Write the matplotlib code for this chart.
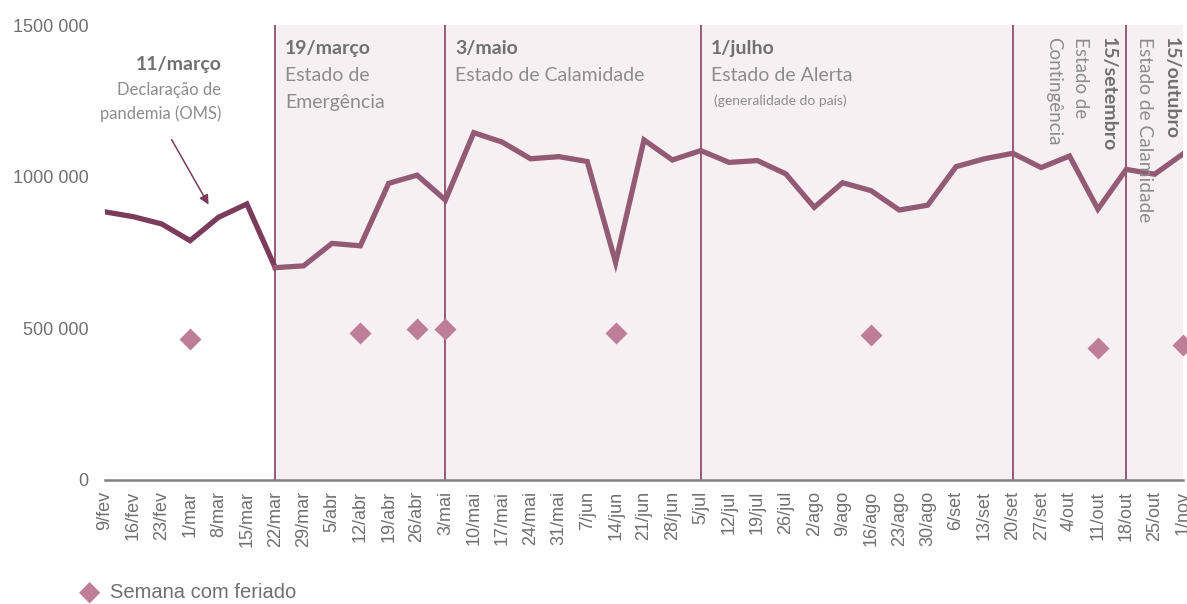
import matplotlib
matplotlib.use('Agg')
import matplotlib.pyplot as plt

# semanas (domingo de cada semana)
weeks = ['9/fev', '16/fev', '23/fev', '1/mar', '8/mar', '15/mar', '22/mar', '29/mar',
         '5/abr', '12/abr', '19/abr', '26/abr', '3/mai', '10/mai', '17/mai', '24/mai',
         '31/mai', '7/jun', '14/jun', '21/jun', '28/jun', '5/jul', '12/jul', '19/jul',
         '26/jul', '2/ago', '9/ago', '16/ago', '23/ago', '30/ago', '6/set', '13/set',
         '20/set', '27/set', '4/out', '11/out', '18/out', '25/out', '1/nov']
values = [884000, 868000, 844000, 789000, 866000, 910000, 700000, 706000,
          780000, 772000, 978000, 1005000, 923000, 1145000, 1114000, 1059000,
          1066000, 1050000, 717000, 1121000, 1055000, 1086000, 1047000, 1053000,
          1009000, 899000, 980000, 954000, 890000, 906000, 1033000, 1059000,
          1077000, 1030000, 1068000, 893000, 1024000, 1008000, 1075000]
# semanas com feriado
holiday_weeks = ['1/mar', '12/abr', '26/abr', '3/mai', '14/jun', '16/ago', '11/out', '1/nov']
holiday_values = [465000, 485000, 498000, 498000, 485000, 478000, 435000, 445000]
# marcos (semana onde comeca cada estado)
event_weeks = ['22/mar', '3/mai', '5/jul', '20/set', '18/out']

dark = '#7b3b5a'
line_c = '#935a74'
diam_c = '#bf7e98'
grey = '#707070'
lgrey = '#8c8c8c'
shade = '#f6f0f3'
ann_font = ['Lato', 'DejaVu Sans']

fig = plt.figure(figsize=(11.87, 6.04), dpi=100)
ax = fig.add_axes([105 / 1187, 1 - 480 / 604, (1183 - 105) / 1187, (480 - 25) / 604])

x = list(range(len(weeks)))
idx = {w: i for i, w in enumerate(weeks)}
start = idx['22/mar']

ax.axvspan(start, len(weeks) + 1, ymin=0, ymax=1.005, color=shade, lw=0, zorder=0)
for w in event_weeks:
    ax.axvline(idx[w], color='#8e4f6b', lw=1.3, zorder=1)

ax.plot(x[:start + 1], values[:start + 1], color=dark, lw=3.8, solid_joinstyle='miter', zorder=3)
ax.plot(x[start:], values[start:], color=line_c, lw=3.8, solid_joinstyle='miter', zorder=3)
ax.plot([idx[w] for w in holiday_weeks], holiday_values, 'D', color=diam_c, ms=11,
        mec='none', zorder=4, clip_on=False)

ax.set_xlim(0, len(weeks) - 1)
ax.set_ylim(0, 1500000)
ax.set_yticks([0, 500000, 1000000, 1500000])
ax.set_yticklabels(['0', '500 000', '1000 000', '1500 000'])
ax.set_xticks(x)
ax.set_xticklabels(weeks, rotation=90)
for lab in ax.get_xticklabels() + ax.get_yticklabels():
    lab.set_family('Liberation Sans')
    lab.set_color(grey)
    lab.set_fontsize(13)
ax.tick_params(length=0, pad=8)
ax.tick_params(axis='y', pad=12)
for s in ['top', 'right', 'left']:
    ax.spines[s].set_visible(False)
ax.spines['bottom'].set_color('#808080')
ax.spines['bottom'].set_linewidth(1.8)
ax.patch.set_alpha(0)

# anotacoes
ax.text(idx['16/fev'] + 3.1, 1370000, '11/março', ha='right', va='center', fontsize=14,
        fontweight='bold', color=grey, family=ann_font)
ax.text(idx['16/fev'] + 3.1, 1313000, 'Declaração de\npandemia (OMS)', ha='right', va='top',
        fontsize=12, color=lgrey, family=ann_font, linespacing=1.55)
ax.annotate('', xy=(3.7, 900000), xytext=(2.3, 1130000),
            arrowprops=dict(arrowstyle='-|>', color=dark, lw=1.1, mutation_scale=14))

tops = [('22/mar', '19/março', 'Estado de\nEmergência'),
        ('3/mai', '3/maio', 'Estado de Calamidade'),
        ('5/jul', '1/julho', 'Estado de Alerta')]
for w, title, sub in tops:
    ax.text(idx[w] + 0.35, 1424000, title, ha='left', va='center', fontsize=14,
            fontweight='bold', color=grey, family=ann_font)
    ax.text(idx[w] + 0.35, 1362000, sub, ha='left', va='top', fontsize=14,
            color=lgrey, family=ann_font, linespacing=1.75)
ax.text(idx['5/jul'] + 0.45, 1250000, '(generalidade do país)', ha='left', va='center',
        fontsize=10, color=lgrey, family=ann_font)

ytop = 1462000
ax.text(idx['20/set'] + 3.35, ytop, '15/setembro', rotation=270, ha='center', va='top',
        fontsize=14, fontweight='bold', color=grey, family=ann_font)
ax.text(idx['20/set'] + 2.4, ytop, 'Estado de', rotation=270, ha='center', va='top',
        fontsize=13.5, color=lgrey, family=ann_font)
ax.text(idx['20/set'] + 1.45, ytop, 'Contingência', rotation=270, ha='center', va='top',
        fontsize=13.5, color=lgrey, family=ann_font)
ax.text(idx['18/out'] + 1.6, ytop, '15/outubro', rotation=270, ha='center', va='top',
        fontsize=14, fontweight='bold', color=grey, family=ann_font)
ax.text(idx['18/out'] + 0.65, ytop, 'Estado de Calamidade', rotation=270, ha='center', va='top',
        fontsize=13.8, color=lgrey, family=ann_font)

# legenda
fig.text(90 / 1187, 1 - 592 / 604, '\u25c6', fontsize=20, color=diam_c, ha='center', va='center')
fig.text(110 / 1187, 1 - 593 / 604, 'Semana com feriado', fontsize=14.5, color=grey,
         ha='left', va='center', family='Liberation Sans')

fig.savefig('out.png', dpi=100)
